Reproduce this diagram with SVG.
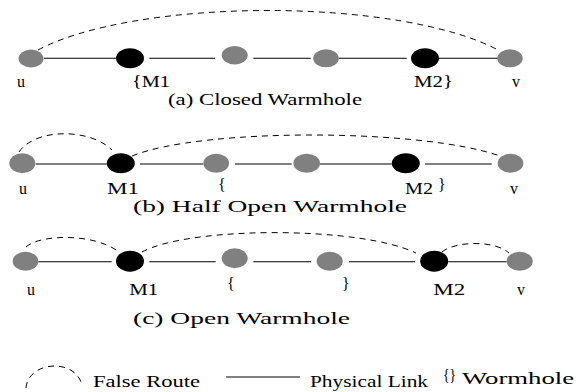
<svg xmlns="http://www.w3.org/2000/svg" width="586" height="392" viewBox="0 0 586 392">
<style>
.g{fill:#808080}
.b{fill:#000}
.ln{stroke:#000;stroke-width:1.1;fill:none}
.ds{stroke:#000;stroke-width:1;fill:none;stroke-dasharray:6,5}
text{font-family:"Liberation Serif","Times New Roman",serif;font-size:16px;fill:#000}
</style>
<rect width="586" height="392" fill="#fff"/>
<g id="connectors">
<path class="ln" d="M44,58.3H116M149.3,58.3H215M253.3,58.3H310.7M339,58.3H406.7M439,58.3H498.3"/>
<path class="ds" d="M38,50 A260,74 0 0,1 498,50"/>
<path class="ln" d="M35.7,164H106.7M140,164H203.3M235,164H291.7M320,164H391.7M425,164H491.7"/>
<path class="ds" d="M19,152 C35,128 90,128 112,150"/>
<path class="ds" d="M132,156 C200,128 420,128 500,156"/>
<path class="ln" d="M38.3,261.7H111.7M149.3,261.7H215.7M253.3,261.7H311M349,261.7H415M448.3,261.7H506.7"/>
<path class="ds" d="M26,247 C40,234 95,233 119,252"/>
<path class="ds" d="M142,252 C190,226 360,226 416,253"/>
<path class="ds" d="M442,252 C455,241 495,240 509,253"/>
</g>
<g id="a_u"><ellipse class="g" cx="31" cy="58.5" rx="12.5" ry="9"/><text x="17" y="87">u</text></g>
<g id="a_M1"><ellipse class="b" cx="130" cy="58.3" rx="14" ry="10"/><text x="132" y="87" textLength="38" lengthAdjust="spacingAndGlyphs">{M1</text></g>
<g id="a_n3"><ellipse class="g" cx="234.7" cy="55.2" rx="13" ry="9.2"/></g>
<g id="a_n4"><ellipse class="g" cx="326" cy="58.3" rx="12.8" ry="9"/></g>
<g id="a_M2"><ellipse class="b" cx="425" cy="58.3" rx="14" ry="10"/><text x="414" y="87" textLength="39" lengthAdjust="spacingAndGlyphs">M2}</text></g>
<g id="a_v"><ellipse class="g" cx="510" cy="58.3" rx="12.7" ry="9"/><text x="512" y="87">v</text></g>
<text x="168" y="105" textLength="194" lengthAdjust="spacingAndGlyphs">(a) Closed Warmhole</text>

<g id="b_u"><ellipse class="g" cx="22.3" cy="163.3" rx="13" ry="10"/><text x="19" y="194">u</text></g>
<g id="b_M1"><ellipse class="b" cx="120.8" cy="163.3" rx="14" ry="10"/><text x="107" y="194" textLength="32" lengthAdjust="spacingAndGlyphs">M1</text></g>
<g id="b_n3"><ellipse class="g" cx="216.2" cy="163.3" rx="12.8" ry="9.5"/><text x="218" y="190">{</text></g>
<g id="b_n4"><ellipse class="g" cx="306.7" cy="163.3" rx="13.3" ry="9.5"/></g>
<g id="b_M2"><ellipse class="b" cx="405.8" cy="163.3" rx="14" ry="10"/><text x="405" y="194" textLength="28" lengthAdjust="spacingAndGlyphs">M2</text><text x="438" y="190">}</text></g>
<g id="b_v"><ellipse class="g" cx="510.5" cy="163.3" rx="12.8" ry="9.5"/><text x="510" y="194">v</text></g>
<text x="133" y="212" textLength="274" lengthAdjust="spacingAndGlyphs">(b) Half Open Warmhole</text>

<g id="c_u"><ellipse class="g" cx="25.5" cy="261.2" rx="12.8" ry="9.5"/><text x="27" y="295">u</text></g>
<g id="c_M1"><ellipse class="b" cx="130" cy="261.2" rx="14" ry="10.5"/><text x="129.3" y="295" textLength="29" lengthAdjust="spacingAndGlyphs">M1</text></g>
<g id="c_n3"><ellipse class="g" cx="234.7" cy="258.3" rx="13" ry="10"/><text x="227" y="289">{</text></g>
<g id="c_n4"><ellipse class="g" cx="329.7" cy="261.2" rx="13" ry="9.5"/><text x="342" y="289">}</text></g>
<g id="c_M2"><ellipse class="b" cx="434.2" cy="261.2" rx="14" ry="10.5"/><text x="433.3" y="295" textLength="32" lengthAdjust="spacingAndGlyphs">M2</text></g>
<g id="c_v"><ellipse class="g" cx="519.7" cy="261.2" rx="13" ry="9.5"/><text x="517" y="295">v</text></g>
<text x="133" y="324" textLength="217" lengthAdjust="spacingAndGlyphs">(c) Open Warmhole</text>

<g id="legend">
<path class="ds" d="M26,388 C28,362 72,358 81,382"/>
<text x="93" y="387" textLength="107" lengthAdjust="spacingAndGlyphs">False Route</text>
<path class="ln" d="M226,377H300"/>
<text x="310" y="387" textLength="118" lengthAdjust="spacingAndGlyphs">Physical Link</text>
<text x="443" y="381" textLength="13" lengthAdjust="spacingAndGlyphs">{}</text>
<text x="462" y="384" textLength="112" lengthAdjust="spacingAndGlyphs">Wormhole</text>
</g>
</svg>
